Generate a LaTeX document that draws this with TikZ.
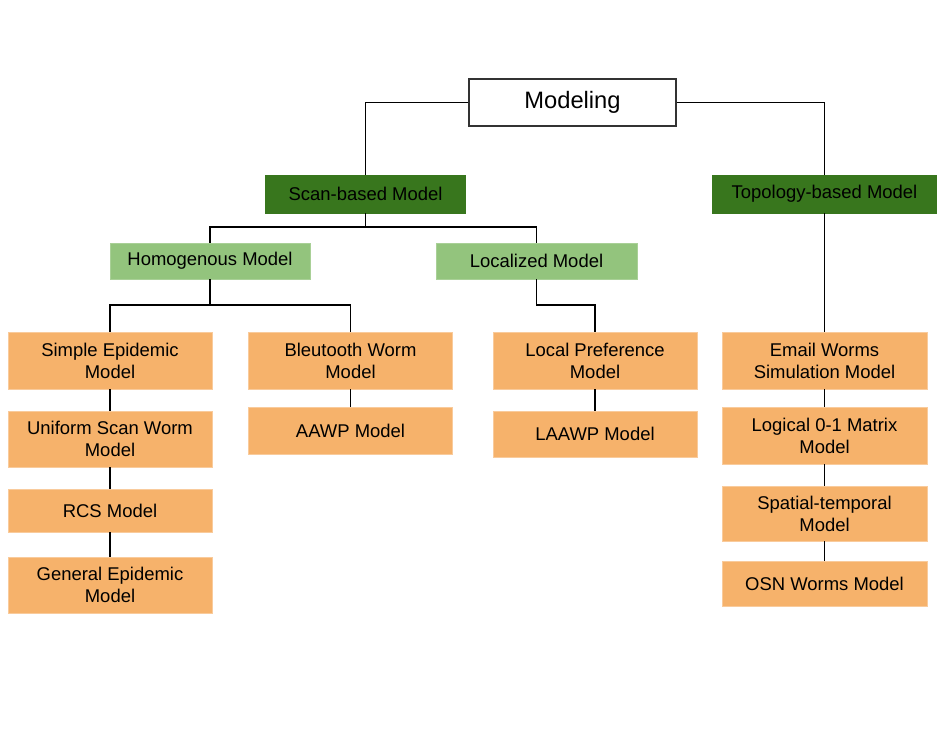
\documentclass[tikz,border=0pt]{standalone}
\usepackage{fontspec}
\setmainfont{Liberation Sans}
\usetikzlibrary{positioning}
\definecolor{darkgr}{HTML}{38761D}
\definecolor{lightgr}{HTML}{93C47D}
\definecolor{leaforange}{HTML}{F6B26B}
\definecolor{leafedge}{HTML}{F9CB9C}

\begin{document}
\begin{tikzpicture}[x=0.02cm,y=-0.02cm,
  box/.style={inner sep=0pt,align=center,font=\fontsize{10.5}{12.6}\selectfont},
  rootbox/.style={box,draw=black!80,line width=0.6pt,fill=white,font=\fontsize{13.5}{16}\selectfont},
  kindbox/.style={box,fill=darkgr,draw=darkgr},
  subbox/.style={box,fill=lightgr,draw=lightgr!80!white},
  leafbox/.style={box,fill=leaforange,draw=leafedge,line width=0.5pt,minimum width=4.08cm},
  link/.style={line width=1pt}]
\useasboundingbox (0,0) rectangle (944,746);
% top
\node[rootbox,minimum width=4.14cm,minimum height=0.94cm] (model) at (572.5,102.5) {Modeling};
\node[kindbox,minimum width=4cm,minimum height=0.76cm] (scan) at (365.5,194) {Scan-based Model};
\node[kindbox,minimum width=4.48cm,minimum height=0.76cm] (topo) at (824.5,194) {Topology-based Model};
\node[subbox,minimum width=4cm,minimum height=0.72cm] (homo) at (210,261) {Homogenous Model};
\node[subbox,minimum width=4.02cm,minimum height=0.72cm] (local) at (536.5,261) {Localized Model};
% leaves, homogenous
\node[leafbox,minimum height=1.14cm] (simple) at (110,360.5) {Simple Epidemic\\Model};
\node[leafbox,minimum height=1.12cm] (uniform) at (110,439) {Uniform Scan Worm\\Model};
\node[leafbox,minimum height=0.86cm] (rcs) at (110,510.5) {RCS Model};
\node[leafbox,minimum height=1.12cm] (general) at (110,585) {General Epidemic\\Model};
\node[leafbox,minimum height=1.14cm] (blue) at (350.5,360.5) {Bleutooth Worm\\Model};
\node[leafbox,minimum height=0.94cm] (aawp) at (350.5,430.5) {AAWP Model};
% leaves, localized
\node[leafbox,minimum height=1.14cm] (pref) at (595,360.5) {Local Preference\\Model};
\node[leafbox,minimum height=0.92cm] (laawp) at (595,434) {LAAWP Model};
% leaves, topology
\node[leafbox,minimum width=4.1cm,minimum height=1.14cm] (email) at (824.5,360.5) {Email Worms\\Simulation Model};
\node[leafbox,minimum width=4.1cm,minimum height=1.14cm] (logic) at (824.5,435.5) {Logical 0-1 Matrix\\Model};
\node[leafbox,minimum width=4.1cm,minimum height=1.1cm] (spatial) at (824.5,513.5) {Spatial-temporal\\Model};
\node[leafbox,minimum width=4.1cm,minimum height=0.9cm] (osn) at (824.5,583.5) {OSN Worms Model};
% links
\draw[link] (model.west) -| (scan.north);
\draw[link] (model.east) -| (topo.north);
\draw[link] (scan.south) -- ++(0,14) -| (homo.north);
\draw[link] (scan.south) -- ++(0,14) -| (local.north);
\draw[link] (homo.south) -- ++(0,26) -| (simple.north);
\draw[link] (homo.south) -- ++(0,26) -| (blue.north);
\draw[link] (local.south) -- ++(0,26) -| (pref.north);
\draw[link] (topo.south) -- (email.north);
\draw[link] (simple) -- (uniform);
\draw[link] (uniform) -- (rcs);
\draw[link] (rcs) -- (general);
\draw[link] (blue) -- (aawp);
\draw[link] (pref) -- (laawp);
\draw[link] (email) -- (logic);
\draw[link] (logic) -- (spatial);
\draw[link] (spatial) -- (osn);
\end{tikzpicture}
\end{document}
